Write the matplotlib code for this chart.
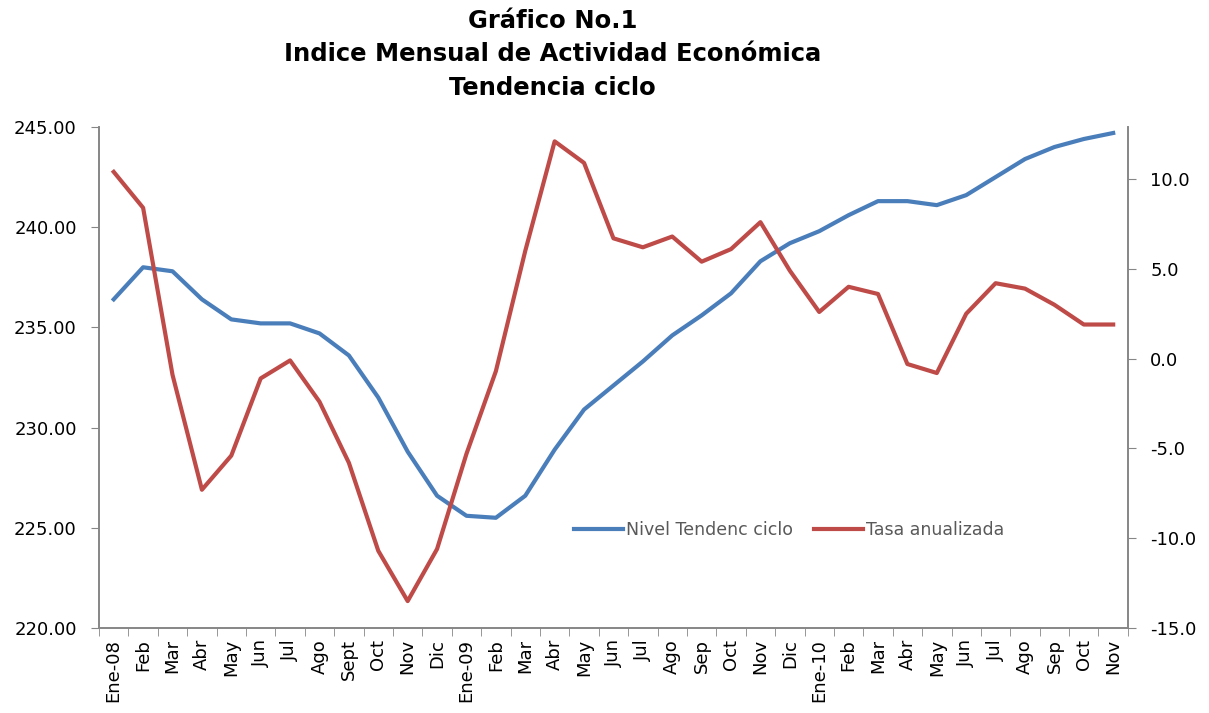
import matplotlib.pyplot as plt
from matplotlib.ticker import FormatStrFormatter

plt.rcParams['font.family'] = ['DejaVu Sans']

meses = ['Ene-08', 'Feb', 'Mar', 'Abr', 'May', 'Jun', 'Jul', 'Ago', 'Sept', 'Oct', 'Nov', 'Dic',
         'Ene-09', 'Feb', 'Mar', 'Abr', 'May', 'Jun', 'Jul', 'Ago', 'Sep', 'Oct', 'Nov', 'Dic',
         'Ene-10', 'Feb', 'Mar', 'Abr', 'May', 'Jun', 'Jul', 'Ago', 'Sep', 'Oct', 'Nov']

nivel = [236.4, 238.0, 237.8, 236.4, 235.4, 235.2, 235.2, 234.7, 233.6, 231.5, 228.8, 226.6,
         225.6, 225.5, 226.6, 228.9, 230.9, 232.1, 233.3, 234.6, 235.6, 236.7, 238.3, 239.2,
         239.8, 240.6, 241.3, 241.3, 241.1, 241.6, 242.5, 243.4, 244.0, 244.4, 244.7]

tasa = [10.4, 8.4, -0.9, -7.3, -5.4, -1.1, -0.1, -2.4, -5.8, -10.7, -13.5, -10.6,
        -5.3, -0.7, 6.0, 12.1, 10.9, 6.7, 6.2, 6.8, 5.4, 6.1, 7.6, 4.9,
        2.6, 4.0, 3.6, -0.3, -0.8, 2.5, 4.2, 3.9, 3.0, 1.9, 1.9]

azul = '#4A7EBB'
rojo = '#BE4B48'
gris = '#868686'

fig = plt.figure(figsize=(12.09, 7.13), dpi=100)
ax = fig.add_axes([0.0819, 0.1192, 0.851, 0.7027])
ax2 = ax.twinx()

x = list(range(len(meses)))
l1, = ax.plot(x, nivel, color=azul, linewidth=3, label='Nivel Tendenc ciclo')
l2, = ax2.plot(x, tasa, color=rojo, linewidth=3, label='Tasa anualizada')

ax.set_xlim(-0.5, len(meses) - 0.5)
ax.set_ylim(220, 245)
ax.set_yticks([220, 225, 230, 235, 240, 245])
ax.yaxis.set_major_formatter(FormatStrFormatter('%.2f'))
ax2.set_ylim(-15, 12.9)
ax2.set_yticks([-15, -10, -5, 0, 5, 10])
ax2.yaxis.set_major_formatter(FormatStrFormatter('%.1f'))

ax.set_xticks(x)
ax.set_xticklabels(meses, rotation=90)
ax.set_xticks([i - 0.5 for i in range(len(meses) + 1)], minor=True)
ax.tick_params(axis='x', which='major', length=0, pad=8, labelsize=13)
ax.tick_params(axis='x', which='minor', length=6, color=gris, direction='out')
ax.tick_params(axis='y', length=6, color=gris, labelsize=13, pad=10)
ax2.tick_params(axis='y', length=6, color=gris, labelsize=13, pad=10)

for a in (ax, ax2):
    a.spines['top'].set_visible(False)
    for s in ('left', 'right', 'bottom'):
        a.spines[s].set_color(gris)
        a.spines[s].set_linewidth(1.2)

fig.text(0.457, 0.988, 'Gráfico No.1\nIndice Mensual de Actividad Económica\nTendencia ciclo',
         ha='center', va='top', fontsize=17.5, fontweight='bold', linespacing=1.52)

fig.legend(handles=[l1, l2], loc='center', bbox_to_anchor=(0.653, 0.257), ncol=2, frameon=False,
           fontsize=12.5, labelcolor='#595959', handlelength=2.8, columnspacing=1.2, handletextpad=0.2)

fig.savefig('out.png', dpi=100)
